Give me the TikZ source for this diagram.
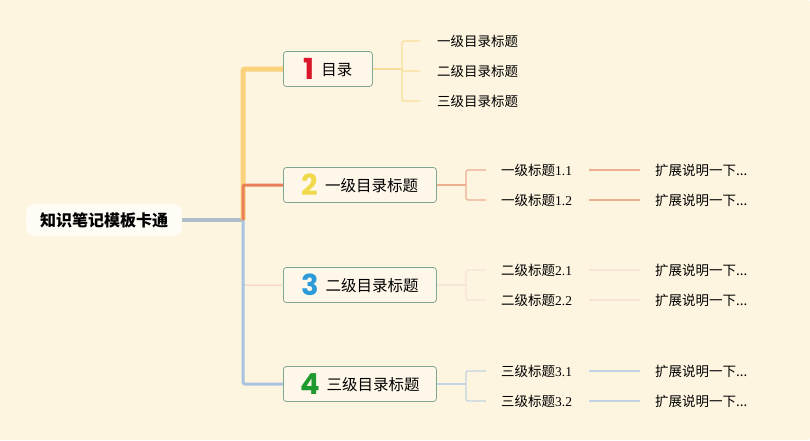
\documentclass[tikz,border=0pt]{standalone}
\usepackage{fontspec}
\newfontfamily\cjk{Noto Sans CJK SC}
\newfontfamily\digf{Poppins}
\newfontfamily\ser{Liberation Serif}
\definecolor{bg}{HTML}{FEF5E1}
\definecolor{cyel}{HTML}{F9D27A}
\definecolor{cora}{HTML}{E8805A}
\definecolor{cblu}{HTML}{A8C4E0}
\definecolor{cpnk}{HTML}{F5D9CC}
\definecolor{croot}{HTML}{AFBEC8}
\definecolor{boxd}{HTML}{7FA68E}
\definecolor{boxf}{HTML}{FFF8EA}
\definecolor{dred}{HTML}{D8172A}
\definecolor{dyel}{HTML}{F0D94A}
\definecolor{dblu}{HTML}{2D9BDA}
\definecolor{dgrn}{HTML}{1E9A2E}
\definecolor{lyel}{HTML}{F7DE9A}
\definecolor{lora}{HTML}{EDAE92}
\definecolor{lpnk}{HTML}{F6E4D8}
\definecolor{lblu}{HTML}{C2D3E3}
\begin{document}
\begin{tikzpicture}[x=1pt,y=-1pt,
  rootbox/.style={fill=white!70!bg, rounded corners=8pt, minimum width=156pt, minimum height=32pt, font=\cjk\bfseries\fontsize{16}{18}\selectfont, text=black},
  mainbox/.style={draw=boxd, line width=0.8pt, fill=boxf, rounded corners=3pt, anchor=west, minimum height=35pt, minimum width=153pt, inner xsep=10pt, inner ysep=0pt, font=\cjk\fontsize{15.5}{18}\selectfont},
  leaf/.style={anchor=west, inner sep=0pt, font=\cjk\fontsize{13.5}{16}\selectfont},
  rounded corners=2pt]
\useasboundingbox (0,0) rectangle (810,440);
\fill[bg] (0,0) rectangle (810,440);

% main nodes
\node[rootbox] (root) at (104,220) {知识笔记模板卡通};
\coordinate (T) at (243,220);
\node[mainbox, minimum width=89pt] (b1) at (283,69) {\raisebox{-4pt}{\digf\bfseries\fontsize{29}{30}\selectfont\color{dred}1}\hspace{7pt}目录};
\node[mainbox] (b2) at (283,185) {\raisebox{-4pt}{\digf\bfseries\fontsize{29}{30}\selectfont\color{dyel}2}\hspace{7pt}一级目录标题};
\node[mainbox] (b3) at (283,285) {\raisebox{-4pt}{\digf\bfseries\fontsize{29}{30}\selectfont\color{dblu}3}\hspace{7pt}二级目录标题};
\node[mainbox] (b4) at (283,384) {\raisebox{-4pt}{\digf\bfseries\fontsize{29}{30}\selectfont\color{dgrn}4}\hspace{7pt}三级目录标题};

% trunk connectors
\draw[croot, line width=4pt, rounded corners=0pt] (root.east) -- (T);
\draw[cpnk, line width=1.5pt] (T) |- (b3.west);
\draw[cyel, line width=5pt] (T) |- (b1.west);
\draw[cblu, line width=3pt] (T) |- (b4.west);
\draw[cora, line width=3pt] (T) |- (b2.west);

% branch 1
\node[leaf] (l11) at (437,41) {一级目录标题};
\node[leaf] (l12) at (437,71) {二级目录标题};
\node[leaf] (l13) at (437,101) {三级目录标题};
\coordinate (j1) at (402,69);
\draw[lyel, line width=1.3pt] (b1.east) -- (j1);
\draw[lyel, line width=1.3pt, shorten >=17pt] (j1) |- (l11.west);
\draw[lyel, line width=1.3pt, shorten >=17pt] (j1) |- (l12.west);
\draw[lyel, line width=1.3pt, shorten >=17pt] (j1) |- (l13.west);

% branch 2
\node[leaf] (l21) at (501,170) {一级标题{\ser 1.1}};
\node[leaf] (l22) at (501,200) {一级标题{\ser 1.2}};
\node[leaf] (e21) at (655,170) {扩展说明一下...};
\node[leaf] (e22) at (655,200) {扩展说明一下...};
\coordinate (j2) at (466,185);
\draw[lora, line width=1.3pt] (b2.east) -- (j2);
\draw[lora, line width=1.3pt, shorten >=15pt] (j2) |- (l21.west);
\draw[lora, line width=1.3pt, shorten >=15pt] (j2) |- (l22.west);
\draw[lora, line width=1.3pt, shorten <=17pt, shorten >=15pt] (l21.east) -- (e21.west);
\draw[lora, line width=1.3pt, shorten <=17pt, shorten >=15pt] (l22.east) -- (e22.west);

% branch 3
\node[leaf] (l31) at (501,270) {二级标题{\ser 2.1}};
\node[leaf] (l32) at (501,300) {二级标题{\ser 2.2}};
\node[leaf] (e31) at (655,270) {扩展说明一下...};
\node[leaf] (e32) at (655,300) {扩展说明一下...};
\coordinate (j3) at (466,285);
\draw[lpnk, line width=1.3pt] (b3.east) -- (j3);
\draw[lpnk, line width=1.3pt, shorten >=15pt] (j3) |- (l31.west);
\draw[lpnk, line width=1.3pt, shorten >=15pt] (j3) |- (l32.west);
\draw[lpnk, line width=1.3pt, shorten <=17pt, shorten >=15pt] (l31.east) -- (e31.west);
\draw[lpnk, line width=1.3pt, shorten <=17pt, shorten >=15pt] (l32.east) -- (e32.west);

% branch 4
\node[leaf] (l41) at (501,371) {三级标题{\ser 3.1}};
\node[leaf] (l42) at (501,401) {三级标题{\ser 3.2}};
\node[leaf] (e41) at (655,371) {扩展说明一下...};
\node[leaf] (e42) at (655,401) {扩展说明一下...};
\coordinate (j4) at (466,384);
\draw[lblu, line width=1.3pt] (b4.east) -- (j4);
\draw[lblu, line width=1.3pt, shorten >=15pt] (j4) |- (l41.west);
\draw[lblu, line width=1.3pt, shorten >=15pt] (j4) |- (l42.west);
\draw[lblu, line width=1.3pt, shorten <=17pt, shorten >=15pt] (l41.east) -- (e41.west);
\draw[lblu, line width=1.3pt, shorten <=17pt, shorten >=15pt] (l42.east) -- (e42.west);
\end{tikzpicture}
\end{document}
